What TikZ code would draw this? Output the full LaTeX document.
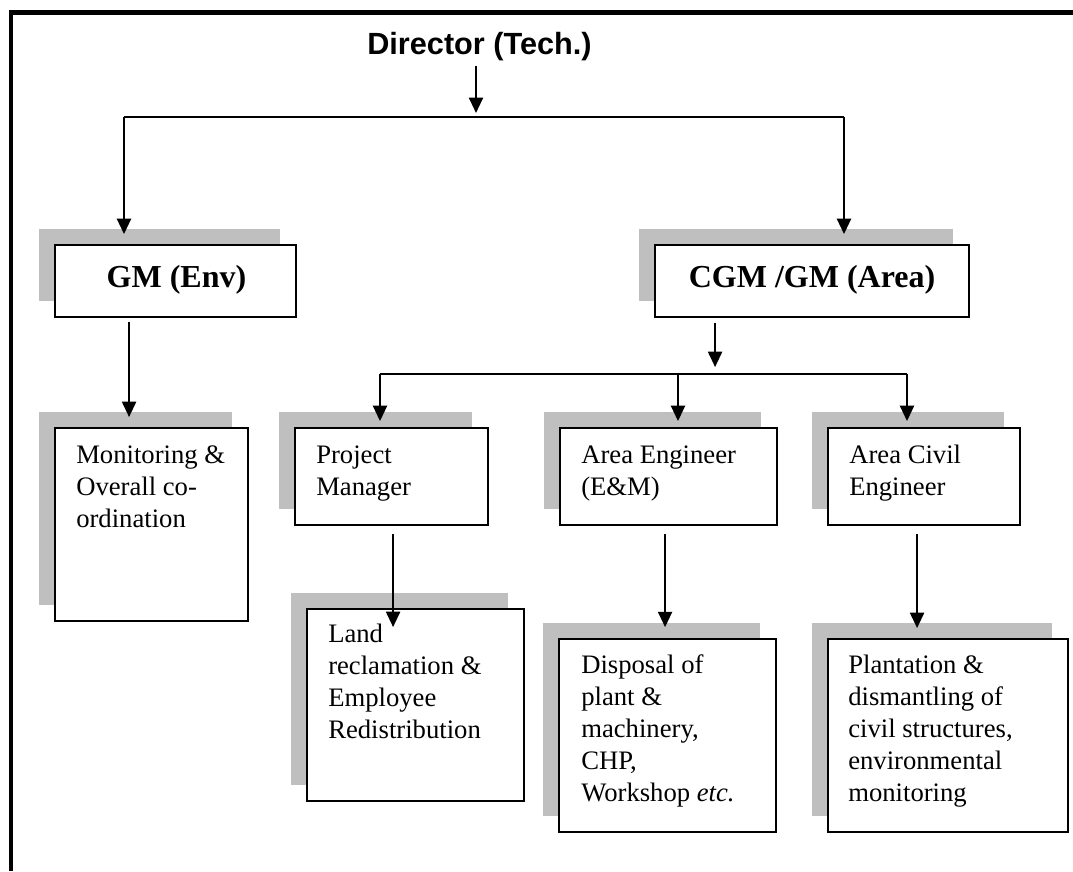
\documentclass[tikz,border=0pt]{standalone}
\usepackage{fontspec}
\setmainfont{Liberation Serif}
\newfontfamily\arialfam{Liberation Sans}
\usetikzlibrary{arrows.meta,fit,shadows,calc}
\definecolor{shadowgray}{RGB}{191,191,191}
\begin{document}
\begin{tikzpicture}[x=0.75pt,y=-0.75pt,
  box/.style={draw=black, line width=1.4pt, fill=white, inner sep=0pt,
    drop shadow={shadow xshift=-12pt, shadow yshift=11.8pt, fill=shadowgray, opacity=1}},
  body/.style={font=\fontsize{20}{24}\selectfont, align=left, inner sep=0pt, anchor=base west},
  head/.style={font=\fontsize{24}{28}\selectfont\bfseries, inner sep=0pt, anchor=base},
  arr/.style={line width=1.5pt, -{Triangle[width=10.5pt,length=11.5pt]}},
  bus/.style={line width=1.3pt},
  frame/.style={line width=3.4pt}]
\useasboundingbox (0,0) rectangle (1073,871);
\draw[frame] (10.9,871) -- (10.9,12.3) -- (1073,12.3);

% top
\node[font=\arialfam\bfseries\fontsize{23}{27}\selectfont, anchor=base, inner sep=0pt] (dir) at (479.5,54) {Director (Tech.)};

% boxes
\node[box, fit={(55,245) (296,317)}] (gm) {};
\node[box, fit={(655,245) (969,317)}] (cgm) {};
\node[box, fit={(55,428) (248,621)}] (mon) {};
\node[box, fit={(295,428) (488,525)}] (pm) {};
\node[box, fit={(560,428) (777,525)}] (ae) {};
\node[box, fit={(828,428) (1020,525)}] (ac) {};
\node[box, fit={(307,609) (524,801)}] (land) {};
\node[box, fit={(559,639) (776,832)}] (disp) {};
\node[box, fit={(828,639) (1068,832)}] (plant) {};

% texts (anchored at the baseline of the last line)
\node[head] (gmtxt) at ($(gm.center)+(1,6)$) {GM (Env)};
\node[head] (cgmtxt) at ($(cgm.center)+(0,6)$) {CGM /GM (Area)};
\node[body] (montxt) at (76,527) {Monitoring \&\\Overall co-\\ordination};
\node[body] (pmtxt) at (316,495) {Project\\Manager};
\node[body] (aetxt) at (581,495) {Area Engineer\\(E\&M)};
\node[body] (actxt) at (849,495) {Area Civil\\Engineer};
\node[body] (landtxt) at (328,738) {Land\\reclamation \&\\Employee\\Redistribution};
\node[body] (disptxt) at (581,801) {Disposal of\\plant \&\\machinery,\\CHP,\\Workshop \textit{etc.}};
\node[body] (planttxt) at (848,801) {Plantation \&\\dismantling of\\civil structures,\\environmental\\monitoring};

% coordinates
\coordinate (b1) at (476,117);
\coordinate (b1l) at (124,117);
\coordinate (b1r) at (844,117);
\coordinate (gmout) at ($(gm.south west)+(75,4)$);
\coordinate (cgmout) at ($(cgm.south west)+(61,5)$);
\coordinate (b2) at (716,374);
\coordinate (b2l) at (380,374);
\coordinate (b2m) at (678,374);
\coordinate (b2r) at (907,374);
\coordinate (pmout) at ($(pm.south west)+(99,8)$);
\coordinate (pmend) at ($(land.north west)+(87,19)$);
\coordinate (aeout) at ($(ae.south west)+(106,8)$);
\coordinate (acout) at ($(ac.south west)+(90,8)$);

% connectors
\draw[arr, shorten <=4pt, shorten >=3pt] (dir.south -| b1) -- (b1);
\draw[bus] (b1l) -- (b1r);
\draw[arr, shorten >=7.5pt] (b1l) -- (b1l |- gm.north);
\draw[arr, shorten >=7.5pt] (b1r) -- (b1r |- cgm.north);
\draw[arr, shorten >=7.5pt] (gmout) -- (gmout |- mon.north);
\draw[arr, shorten >=5.2pt] (cgmout) -- (cgmout |- b2);
\draw[bus] (b2l) -- (b2r);
\draw[arr, shorten >=4.5pt] (b2l) -- (b2l |- pm.north);
\draw[arr, shorten >=4.5pt] (b2m) -- (b2m |- ae.north);
\draw[arr, shorten >=4.5pt] (b2r) -- (b2r |- ac.north);
\draw[arr] (pmout) -- (pmout |- pmend);
\draw[arr, shorten >=8.2pt] (aeout) -- (aeout |- disp.north);
\draw[arr, shorten >=7.5pt] (acout) -- (acout |- plant.north);
\end{tikzpicture}
\end{document}
